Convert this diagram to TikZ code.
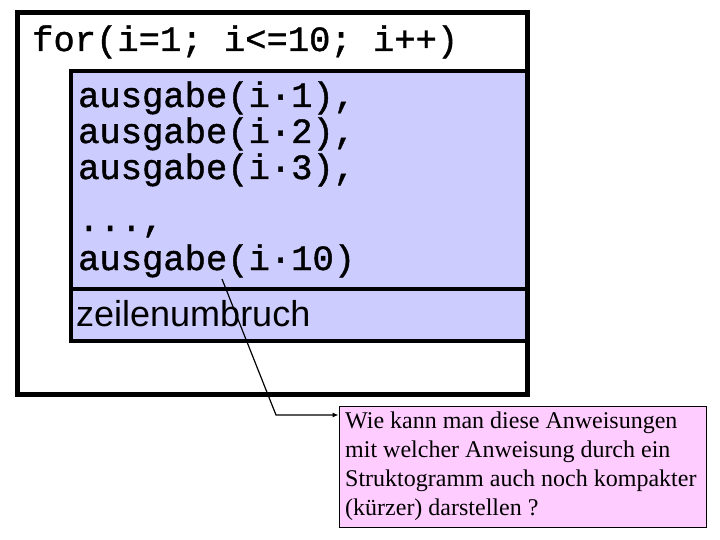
\documentclass[tikz,border=0pt]{standalone}
\usepackage{fontspec}
\usetikzlibrary{arrows.meta}
\newfontfamily\codefont[FakeBold=1.2]{Liberation Mono}
\newfontfamily\sansfnt{Liberation Sans}
\newfontfamily\seriffnt{Liberation Serif}
\definecolor{blockblue}{RGB}{204,204,255}
\definecolor{notepink}{RGB}{255,204,255}
\begin{document}
\begin{tikzpicture}[x=1pt,y=-1pt,
  codetext/.style={anchor=base west,inner sep=0pt,font=\codefont\fontsize{35.5}{36}\selectfont},
  sanstext/.style={anchor=base west,inner sep=0pt,font=\sansfnt\fontsize{36}{40}\selectfont},
  notetext/.style={anchor=base west,inner sep=0pt,font=\seriffnt\fontsize{24}{29}\selectfont},
  thickframe/.style={draw=black,line width=5pt},
  blockframe/.style={draw=black,line width=4pt,fill=blockblue},
  arr/.style={draw=black,line width=1.2pt,-{Latex[length=6pt,width=5pt]}}]
\useasboundingbox (0,0) rectangle (720,540);
\fill[white] (0,0) rectangle (720,540);
% outer loop box
\draw[thickframe] (17.5,12.5) rectangle (527.5,394.5);
% inner body
\draw[blockframe] (71,71) rectangle (527.5,288.5);
\draw[blockframe] (71,288.5) rectangle (527.5,340.5);
\draw[thickframe] (527.5,12.5) -- (527.5,394.5);
% texts
\node[codetext] (head) at (32,51) {for(i=1; i<=10; i++)};
\node[codetext] (l1) at (78,107) {ausgabe(i·1),};
\node[codetext] (l2) at (78,143) {ausgabe(i·2),};
\node[codetext] (l3) at (78,179) {ausgabe(i·3),};
\node[codetext] (l4) at (78,231) {...,};
\node[codetext] (l5) at (78,270) {ausgabe(i·10)};
\node[sanstext] (zu) at (76,326) {zeilenumbruch};
% note box
\node[draw=black,line width=0.8pt,fill=notepink,minimum width=367pt,minimum height=121pt,inner sep=0pt] (note) at (522.5,466.5) {};
\node[notetext] (q1) at (345,428) {Wie kann man diese Anweisungen};
\node[notetext] (q2) at (345,457) {mit welcher Anweisung durch ein};
\node[notetext] (q3) at (345,486) {Struktogramm auch noch kompakter};
\node[notetext] (q4) at (345,515) {(kürzer) darstellen ?};
% connector
\coordinate (start) at (222,279);
\coordinate (bend) at (276,415);
\draw[arr] (start) -- (bend) -- (bend -| note.west);
\end{tikzpicture}
\end{document}
